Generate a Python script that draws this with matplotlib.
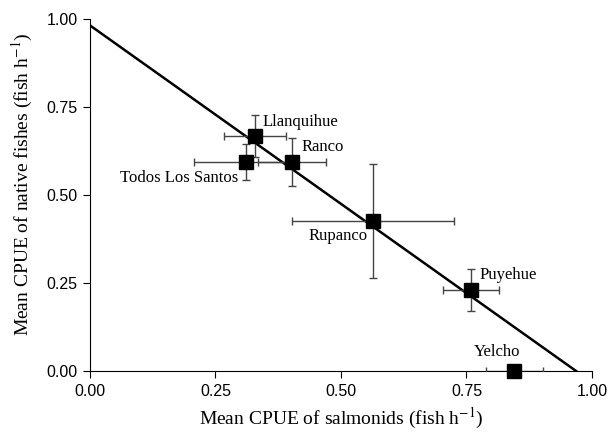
import matplotlib
matplotlib.use("Agg")
import matplotlib.pyplot as plt

lakes = ["Llanquihue", "Todos Los Santos", "Ranco", "Rupanco", "Puyehue", "Yelcho"]
salmonids = [0.329, 0.311, 0.402, 0.564, 0.759, 0.845]
salmonids_err = [0.062, 0.104, 0.068, 0.161, 0.056, 0.057]
natives = [0.668, 0.594, 0.594, 0.426, 0.230, 0.0]
natives_err = [0.060, 0.050, 0.068, 0.162, 0.060, 0.0]

# fitted regression line
intercept = 0.982
slope = -1.014

plt.rcParams["mathtext.fontset"] = "stix"

fig = plt.figure(figsize=(6.1, 4.33), dpi=100)
ax = fig.add_axes([0.1475, 0.143, 0.823, 0.813])

x_end = -intercept / slope
ax.plot([0, x_end], [intercept, 0], color="black", lw=1.8, zorder=2)

ax.errorbar(salmonids, natives, xerr=salmonids_err, yerr=natives_err,
            fmt="none", ecolor="#444444", elinewidth=1.0, capsize=3,
            capthick=1.0, zorder=3)
ax.plot(salmonids, natives, "s", color="black", ms=9.5, zorder=4, clip_on=False)

label_offsets = {
    "Llanquihue": (5, 4, "left", "bottom"),
    "Todos Los Santos": (-6, -6, "right", "top"),
    "Ranco": (7, 5, "left", "bottom"),
    "Rupanco": (-4, -5, "right", "top"),
    "Puyehue": (6, 5, "left", "bottom"),
    "Yelcho": (-12, 8, "center", "bottom"),
}
for name, x, y in zip(lakes, salmonids, natives):
    dx, dy, ha, va = label_offsets[name]
    ax.annotate(name, (x, y), xytext=(dx, dy), textcoords="offset points",
                ha=ha, va=va, fontsize=12, family="Liberation Serif")

ax.set_xlim(0, 1)
ax.set_ylim(0, 1)
ax.set_xticks([0, 0.25, 0.5, 0.75, 1.0])
ax.set_yticks([0, 0.25, 0.5, 0.75, 1.0])
ax.set_xticklabels(["0.00", "0.25", "0.50", "0.75", "1.00"])
ax.set_yticklabels(["0.00", "0.25", "0.50", "0.75", "1.00"])
ax.tick_params(direction="out", length=5, labelsize=11.5, pad=4)
for lab in ax.get_xticklabels() + ax.get_yticklabels():
    lab.set_family("Liberation Sans")
ax.spines["top"].set_visible(False)
ax.spines["right"].set_visible(False)

ax.set_xlabel("Mean CPUE of salmonids (fish h$^{-1}$)", family="Liberation Serif",
              fontsize=14, labelpad=5)
ax.set_ylabel("Mean CPUE of native fishes (fish h$^{-1}$)", family="Liberation Serif",
              fontsize=14)
ax.yaxis.set_label_coords(-0.11, 0.53)

fig.savefig("out.png", dpi=100)
